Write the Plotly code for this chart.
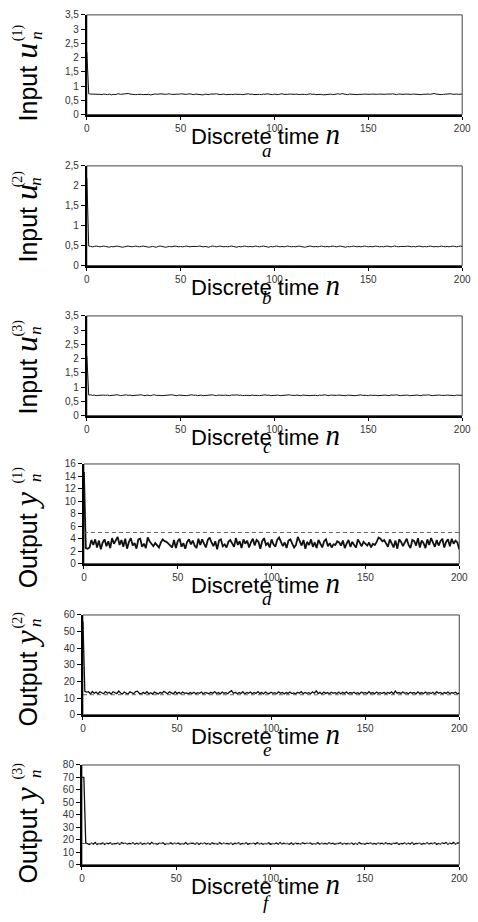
import plotly.graph_objects as go

W, H = 478, 922

n = list(range(201))

u1 = [2.2, 0.73, 0.72, 0.72, 0.71, 0.72, 0.73, 0.71, 0.70, 0.72,
      0.71, 0.70, 0.72, 0.69, 0.71, 0.70, 0.72, 0.73, 0.71, 0.72,
      0.71, 0.72, 0.74, 0.72, 0.71, 0.72, 0.70, 0.71, 0.72, 0.71,
      0.70, 0.71, 0.72, 0.71, 0.69, 0.71, 0.72, 0.72, 0.71, 0.73,
      0.72, 0.72, 0.71, 0.72, 0.73, 0.71, 0.70, 0.71, 0.72, 0.71,
      0.73, 0.72, 0.70, 0.71, 0.72, 0.73, 0.71, 0.70, 0.72, 0.71,
      0.72, 0.71, 0.69, 0.72, 0.71, 0.70, 0.72, 0.71, 0.72, 0.73,
      0.71, 0.70, 0.71, 0.72, 0.70, 0.71, 0.72, 0.71, 0.70, 0.72,
      0.71, 0.72, 0.71, 0.70, 0.71, 0.72, 0.73, 0.71, 0.72, 0.70,
      0.71, 0.72, 0.71, 0.70, 0.72, 0.71, 0.73, 0.72, 0.71, 0.70,
      0.72, 0.71, 0.70, 0.72, 0.73, 0.71, 0.70, 0.71, 0.72, 0.71,
      0.70, 0.71, 0.72, 0.70, 0.71, 0.72, 0.71, 0.70, 0.71, 0.73,
      0.71, 0.72, 0.70, 0.71, 0.72, 0.71, 0.69, 0.70, 0.72, 0.71,
      0.72, 0.70, 0.71, 0.72, 0.73, 0.71, 0.74, 0.72, 0.71, 0.70,
      0.72, 0.71, 0.72, 0.71, 0.70, 0.71, 0.70, 0.71, 0.72, 0.71,
      0.70, 0.71, 0.72, 0.71, 0.70, 0.71, 0.72, 0.71, 0.70, 0.71,
      0.72, 0.71, 0.72, 0.73, 0.71, 0.70, 0.72, 0.71, 0.72, 0.71,
      0.72, 0.71, 0.70, 0.71, 0.72, 0.71, 0.72, 0.71, 0.70, 0.71,
      0.72, 0.71, 0.72, 0.71, 0.73, 0.74, 0.72, 0.71, 0.72, 0.70,
      0.71, 0.72, 0.71, 0.72, 0.73, 0.71, 0.72, 0.72, 0.71, 0.72,
      0.72]

u2 = [2.2, 0.49, 0.48, 0.47, 0.48, 0.49, 0.48, 0.47, 0.48, 0.49,
      0.48, 0.47, 0.46, 0.48, 0.47, 0.48, 0.49, 0.48, 0.47, 0.46,
      0.47, 0.48, 0.49, 0.48, 0.47, 0.48, 0.49, 0.48, 0.47, 0.48,
      0.49, 0.48, 0.47, 0.46, 0.47, 0.48, 0.47, 0.46, 0.48, 0.49,
      0.48, 0.47, 0.46, 0.47, 0.48, 0.47, 0.48, 0.49, 0.48, 0.47,
      0.48, 0.47, 0.48, 0.49, 0.48, 0.47, 0.48, 0.48, 0.47, 0.48,
      0.49, 0.48, 0.47, 0.48, 0.47, 0.46, 0.48, 0.49, 0.48, 0.47,
      0.48, 0.49, 0.48, 0.47, 0.48, 0.47, 0.48, 0.49, 0.48, 0.47,
      0.46, 0.48, 0.47, 0.48, 0.49, 0.48, 0.47, 0.48, 0.47, 0.48,
      0.49, 0.48, 0.47, 0.48, 0.49, 0.48, 0.47, 0.46, 0.48, 0.47,
      0.48, 0.49, 0.48, 0.47, 0.48, 0.47, 0.48, 0.49, 0.48, 0.47,
      0.48, 0.47, 0.48, 0.49, 0.48, 0.47, 0.46, 0.47, 0.48, 0.49,
      0.48, 0.47, 0.48, 0.47, 0.48, 0.49, 0.48, 0.47, 0.48, 0.47,
      0.48, 0.49, 0.48, 0.47, 0.48, 0.49, 0.48, 0.47, 0.46, 0.48,
      0.47, 0.48, 0.49, 0.48, 0.47, 0.48, 0.47, 0.48, 0.49, 0.48,
      0.47, 0.48, 0.47, 0.48, 0.49, 0.48, 0.47, 0.48, 0.47, 0.48,
      0.49, 0.48, 0.47, 0.48, 0.49, 0.48, 0.47, 0.48, 0.48, 0.47,
      0.48, 0.49, 0.48, 0.47, 0.48, 0.47, 0.48, 0.49, 0.48, 0.47,
      0.48, 0.47, 0.48, 0.49, 0.48, 0.47, 0.48, 0.47, 0.48, 0.49,
      0.48, 0.47, 0.48, 0.47, 0.48, 0.49, 0.48, 0.47, 0.48, 0.49,
      0.48]

u3 = [2.1, 0.72, 0.73, 0.71, 0.72, 0.70, 0.71, 0.72, 0.73, 0.72,
      0.71, 0.72, 0.70, 0.71, 0.72, 0.71, 0.73, 0.72, 0.70, 0.71,
      0.72, 0.73, 0.71, 0.72, 0.70, 0.71, 0.72, 0.71, 0.72, 0.73,
      0.71, 0.70, 0.72, 0.71, 0.70, 0.72, 0.73, 0.71, 0.72, 0.71,
      0.70, 0.71, 0.72, 0.71, 0.72, 0.73, 0.72, 0.71, 0.70, 0.72,
      0.71, 0.72, 0.71, 0.70, 0.71, 0.72, 0.73, 0.71, 0.72, 0.70,
      0.71, 0.72, 0.70, 0.71, 0.72, 0.71, 0.72, 0.73, 0.71, 0.70,
      0.72, 0.71, 0.70, 0.71, 0.72, 0.71, 0.70, 0.72, 0.71, 0.72,
      0.73, 0.71, 0.72, 0.70, 0.71, 0.72, 0.71, 0.70, 0.72, 0.71,
      0.72, 0.71, 0.70, 0.71, 0.72, 0.73, 0.71, 0.72, 0.70, 0.71,
      0.72, 0.71, 0.72, 0.70, 0.71, 0.72, 0.71, 0.72, 0.73, 0.71,
      0.70, 0.71, 0.72, 0.71, 0.70, 0.72, 0.71, 0.72, 0.71, 0.70,
      0.71, 0.72, 0.71, 0.70, 0.72, 0.71, 0.72, 0.73, 0.71, 0.70,
      0.72, 0.71, 0.70, 0.71, 0.72, 0.71, 0.72, 0.71, 0.70, 0.72,
      0.71, 0.72, 0.71, 0.70, 0.71, 0.72, 0.73, 0.71, 0.72, 0.71,
      0.70, 0.72, 0.71, 0.72, 0.71, 0.70, 0.71, 0.72, 0.71, 0.72,
      0.71, 0.70, 0.72, 0.71, 0.72, 0.73, 0.71, 0.70, 0.71, 0.72,
      0.71, 0.72, 0.70, 0.71, 0.72, 0.71, 0.72, 0.71, 0.70, 0.72,
      0.71, 0.72, 0.73, 0.71, 0.70, 0.71, 0.72, 0.71, 0.72, 0.71,
      0.70, 0.71, 0.72, 0.71, 0.72, 0.71, 0.70, 0.72, 0.71, 0.72,
      0.71]

y1 = [14.7, 2.5, 2.4, 2.6, 3.8, 3.0, 3.9, 2.6, 3.7, 2.3,
      3.4, 3.9, 2.8, 3.6, 2.5, 4.1, 3.2, 3.9, 4.3, 3.0,
      3.8, 2.7, 4.0, 2.4, 3.5, 4.1, 2.9, 3.3, 2.4, 3.9,
      4.0, 2.7, 3.2, 2.5, 4.2, 3.6, 3.1, 2.8, 3.3, 3.0,
      2.6, 3.4, 3.9, 3.6, 3.5, 3.2, 2.9, 2.6, 3.8, 2.5,
      3.6, 4.0, 2.7, 3.3, 2.4, 3.5, 3.9, 3.1, 3.7, 2.9,
      2.5, 4.0, 3.0, 3.9, 3.2, 2.6, 3.8, 4.2, 3.4, 2.8,
      3.6, 2.3, 3.7, 3.9, 2.8, 3.1, 2.6, 3.5, 3.8, 3.3,
      2.7, 4.1, 3.0, 3.6, 2.5, 3.9, 3.2, 3.7, 2.6, 3.4,
      4.0, 2.9, 3.8, 3.5, 2.4, 3.6, 4.1, 3.0, 3.3, 2.6,
      3.9, 3.1, 2.7, 3.8, 4.2, 3.5, 2.8, 3.4, 2.5, 3.7,
      3.9, 3.2, 2.6, 3.0, 4.3, 3.6, 2.9, 3.8, 2.4, 3.5,
      3.0, 3.9, 2.7, 3.4, 2.5, 3.8, 3.1, 2.6, 3.6, 3.9,
      2.8, 3.3, 2.6, 3.1, 3.0, 3.6, 3.4, 2.9, 3.7, 2.5,
      3.2, 3.8, 2.7, 3.5, 3.0, 2.6, 3.9, 3.3, 2.8, 3.5,
      3.1, 2.9, 3.4, 2.6, 3.2, 3.0, 3.5, 4.2, 4.0, 3.6,
      3.8, 3.3, 2.7, 3.9, 3.1, 2.6, 3.7, 2.4, 3.9, 3.5,
      2.8, 3.4, 4.0, 3.0, 2.5, 3.8, 3.6, 2.9, 4.1, 2.6,
      3.7, 3.3, 2.5, 3.9, 3.0, 4.1, 3.4, 2.7, 3.8, 2.9,
      3.6, 4.0, 2.6, 3.5, 3.9, 2.8, 4.0, 3.2, 3.7, 3.4,
      2.3]

y2 = [56, 14.0, 13.6, 13.8, 12.5, 13.9, 12.8, 13.6, 12.4, 13.7,
      13.2, 12.6, 13.9, 12.9, 13.5, 12.3, 13.8, 13.1, 12.7, 14.2,
      13.0, 12.5, 13.6, 12.9, 12.4, 13.7, 13.3, 12.6, 13.9, 14.1,
      12.8, 12.5, 13.4, 12.7, 13.8, 12.6, 13.2, 12.4, 13.6, 13.0,
      12.5, 13.5, 12.8, 14.0, 13.3, 12.6, 13.7, 12.9, 12.5, 13.8,
      12.7, 13.4, 12.6, 13.6, 12.8, 13.1, 12.5, 13.3, 12.7, 13.5,
      12.6, 13.2, 12.8, 13.6, 12.5, 13.4, 12.9, 12.6, 13.5, 12.8,
      13.9, 12.7, 13.3, 12.5, 13.6, 12.9, 13.2, 12.6, 13.7, 14.4,
      12.8, 13.5, 12.6, 13.3, 12.7, 13.8, 12.5, 13.4, 12.9, 13.6,
      12.6, 13.3, 12.8, 13.9, 12.7, 13.4, 12.5, 13.6, 13.0, 12.7,
      13.5, 12.8, 13.2, 12.6, 13.7, 12.9, 13.4, 12.5, 13.3, 12.8,
      13.6, 12.7, 13.1, 12.5, 13.5, 12.9, 13.8, 12.6, 13.4, 12.8,
      13.2, 12.6, 13.7, 12.9, 14.3, 12.7, 13.4, 12.5, 13.6, 12.8,
      13.3, 12.6, 13.5, 12.9, 13.2, 12.7, 13.6, 12.5, 13.4, 12.8,
      13.7, 12.6, 13.3, 12.9, 13.5, 12.7, 13.2, 12.5, 13.6, 12.9,
      13.4, 12.6, 13.8, 12.8, 13.3, 12.5, 13.6, 12.9, 13.2, 12.7,
      13.5, 12.6, 13.4, 12.8, 13.7, 12.5, 14.2, 12.9, 13.3, 12.7,
      13.6, 12.8, 13.2, 12.6, 13.5, 12.9, 13.4, 12.5, 13.7, 12.8,
      13.3, 12.6, 13.6, 12.9, 13.2, 12.7, 13.5, 12.5, 13.8, 12.9,
      13.4, 12.6, 13.3, 12.8, 13.6, 12.7, 13.2, 12.9, 13.5, 12.6,
      13.0]

y3 = [70, 70, 17.5, 17.0, 16.2, 17.4, 16.5, 17.8, 16.3, 17.1,
      16.6, 17.5, 16.2, 17.2, 16.8, 17.6, 16.4, 17.0, 16.7, 17.4,
      16.3, 17.8, 16.9, 17.3, 16.5, 17.1, 16.8, 17.6, 16.4, 17.2,
      16.6, 17.5, 16.3, 17.0, 16.8, 17.4, 16.5, 17.9, 16.7, 17.1,
      16.4, 17.3, 16.9, 17.6, 16.2, 17.0, 16.7, 17.5, 16.5, 17.2,
      16.8, 17.4, 16.3, 17.1, 16.6, 17.7, 16.4, 17.0, 16.9, 17.3,
      16.5, 17.6, 16.2, 17.2, 16.8, 17.4, 16.6, 17.0, 16.3, 17.5,
      16.7, 17.1, 16.4, 17.8, 16.6, 17.3, 16.9, 17.0, 16.5, 17.4,
      16.2, 17.2, 16.8, 17.5, 16.4, 17.1, 16.7, 17.6, 16.3, 17.0,
      16.9, 17.3, 16.5, 17.7, 16.6, 17.2, 16.4, 17.0, 16.8, 17.5,
      16.3, 17.1, 16.7, 17.4, 16.5, 17.8, 16.6, 17.2, 16.9, 17.0,
      16.4, 17.5, 16.2, 17.3, 16.8, 17.1, 16.5, 17.6, 16.7, 17.2,
      16.9, 17.4, 16.3, 17.0, 16.6, 17.7, 16.4, 17.3, 16.8, 17.1,
      16.5, 17.5, 16.7, 17.2, 16.3, 17.0, 16.9, 17.6, 16.4, 17.3,
      16.6, 17.1, 16.8, 17.4, 16.2, 17.2, 16.5, 17.8, 16.7, 17.0,
      16.4, 17.3, 16.9, 17.5, 16.6, 17.1, 16.3, 17.4, 16.8, 17.2,
      16.5, 17.6, 16.7, 17.0, 16.4, 17.3, 16.9, 17.5, 16.2, 17.1,
      16.8, 17.4, 16.5, 17.2, 16.6, 17.7, 16.3, 17.0, 16.9, 17.3,
      16.4, 17.1, 16.7, 17.5, 16.5, 17.2, 16.8, 17.6, 16.3, 17.0,
      16.6, 17.4, 16.9, 17.8, 16.5, 17.2, 16.7, 17.9, 16.4, 17.5,
      17.3]

series = [u1, u2, u3, y1, y2, y3]
setpoints = [None, None, None, 5, 12, 17]
y_max = [3.5, 2.5, 3.5, 16, 60, 80]
y_step = [0.5, 0.5, 0.5, 2, 10, 10]
x_ticks = [0, 50, 100, 150, 200]
kinds = ["Input", "Input", "Input", "Output", "Output", "Output"]
symbols = ["u", "u", "u", "y", "y", "y"]
indices = ["(1)", "(2)", "(3)", "(1)", "(2)", "(3)"]
letters = ["a", "b", "c", "d", "e", "f"]

# layout geometry in pixels (left, right, top, bottom of plot area)
boxes = [(86, 471, 9, 110), (86, 471, 162, 263), (86, 471, 314, 415),
         (83, 468, 464, 565), (82, 468, 617, 718), (81, 468, 769, 870)]
title_c = [77, 220, 374, 541, 681, 840]
script_c = [27, 175, 326, 475, 622, 775]
letter_y = [146, 295, 446, 600, 753, 908]
line_w = [1.0, 1.0, 1.0, 1.8, 1.3, 1.3]


def px(x):
    return x / W


def py(y):
    return 1 - y / H


SANS = "Liberation Sans, Arial, sans-serif"
SERIF = "Liberation Serif, Times New Roman, serif"

fig = go.Figure()
layout = dict(width=W, height=H, margin=dict(l=0, r=0, t=0, b=0),
              paper_bgcolor="white", plot_bgcolor="white",
              separators=", ", showlegend=False)
annotations = []
shapes = []

for i in range(6):
    k = i + 1
    xa = "x" if k == 1 else f"x{k}"
    ya = "y" if k == 1 else f"y{k}"
    L, R, T, B = boxes[i]
    fig.add_trace(go.Scatter(x=n, y=series[i], mode="lines",
                             line=dict(color="#111", width=line_w[i]),
                             xaxis=xa, yaxis=ya, hoverinfo="skip"))
    if setpoints[i] is not None:
        fig.add_trace(go.Scatter(x=[n[0], n[-1]], y=[setpoints[i], setpoints[i]],
                                 mode="lines",
                                 line=dict(color="#666", width=1, dash="4px,3px"),
                                 xaxis=xa, yaxis=ya, hoverinfo="skip"))
    layout["xaxis" if k == 1 else f"xaxis{k}"] = dict(
        domain=[px(L), px(R)], anchor=ya, range=[0, 200], tickvals=x_ticks,
        ticks="outside", ticklen=3, tickcolor="black", showline=True,
        linecolor="black", linewidth=2, showgrid=False, zeroline=False,
        ticklabeloverflow="allow",
        tickfont=dict(family=SANS, size=10, color="#333"))
    layout["yaxis" if k == 1 else f"yaxis{k}"] = dict(
        domain=[py(B), py(T)], anchor=xa, range=[0, y_max[i]], dtick=y_step[i],
        tick0=0, ticks="outside", ticklen=4, tickcolor="black", showline=True,
        linecolor="black", linewidth=2, showgrid=False, zeroline=False,
        tickfont=dict(family=SANS, size=10, color="#333"))
    shapes.append(dict(type="rect", xref=f"{xa} domain", yref=f"{ya} domain",
                       x0=0, x1=1, y0=0, y1=1, layer="below",
                       line=dict(color="#444", width=1)))
    # y title
    annotations.append(dict(
        x=px(24), y=py(title_c[i]), xref="paper", yref="paper",
        xanchor="center", yanchor="middle", textangle=-90, showarrow=False,
        text=f'{kinds[i]} <span style="font-family:{SERIF}; font-size:32px"><i>{symbols[i]}</i></span>',
        font=dict(family=SANS, size=25, color="black")))
    annotations.append(dict(
        x=px(15), y=py(script_c[i]), xref="paper", yref="paper",
        xanchor="center", yanchor="middle", textangle=-90, showarrow=False,
        text=indices[i], font=dict(family=SERIF, size=14, color="black")))
    annotations.append(dict(
        x=px(34), y=py(script_c[i] + 3), xref="paper", yref="paper",
        xanchor="center", yanchor="middle", textangle=-90, showarrow=False,
        text="<i>n</i>", font=dict(family=SERIF, size=17, color="black")))
    # x title
    annotations.append(dict(
        x=px(269), y=py(B + 20), xref="paper", yref="paper",
        xanchor="center", yanchor="middle", showarrow=False,
        text=f'Discrete time <span style="font-family:{SERIF}; font-size:29px"><i>n</i></span>',
        font=dict(family=SANS, size=22, color="black")))
    annotations.append(dict(
        x=px(271), y=py(letter_y[i]), xref="paper", yref="paper",
        xanchor="center", yanchor="middle", showarrow=False,
        text=f"<i>{letters[i]}</i>",
        font=dict(family=SERIF, size=19, color="black")))

layout["annotations"] = annotations
layout["shapes"] = shapes
fig.update_layout(**layout)
fig.write_html("out.html", config={"displayModeBar": False},
               post_script="document.documentElement.style.margin='0';"
                           "document.body.style.margin='0';"
                           "document.documentElement.style.overflow='hidden';"
                           "document.body.style.overflow='hidden';")
